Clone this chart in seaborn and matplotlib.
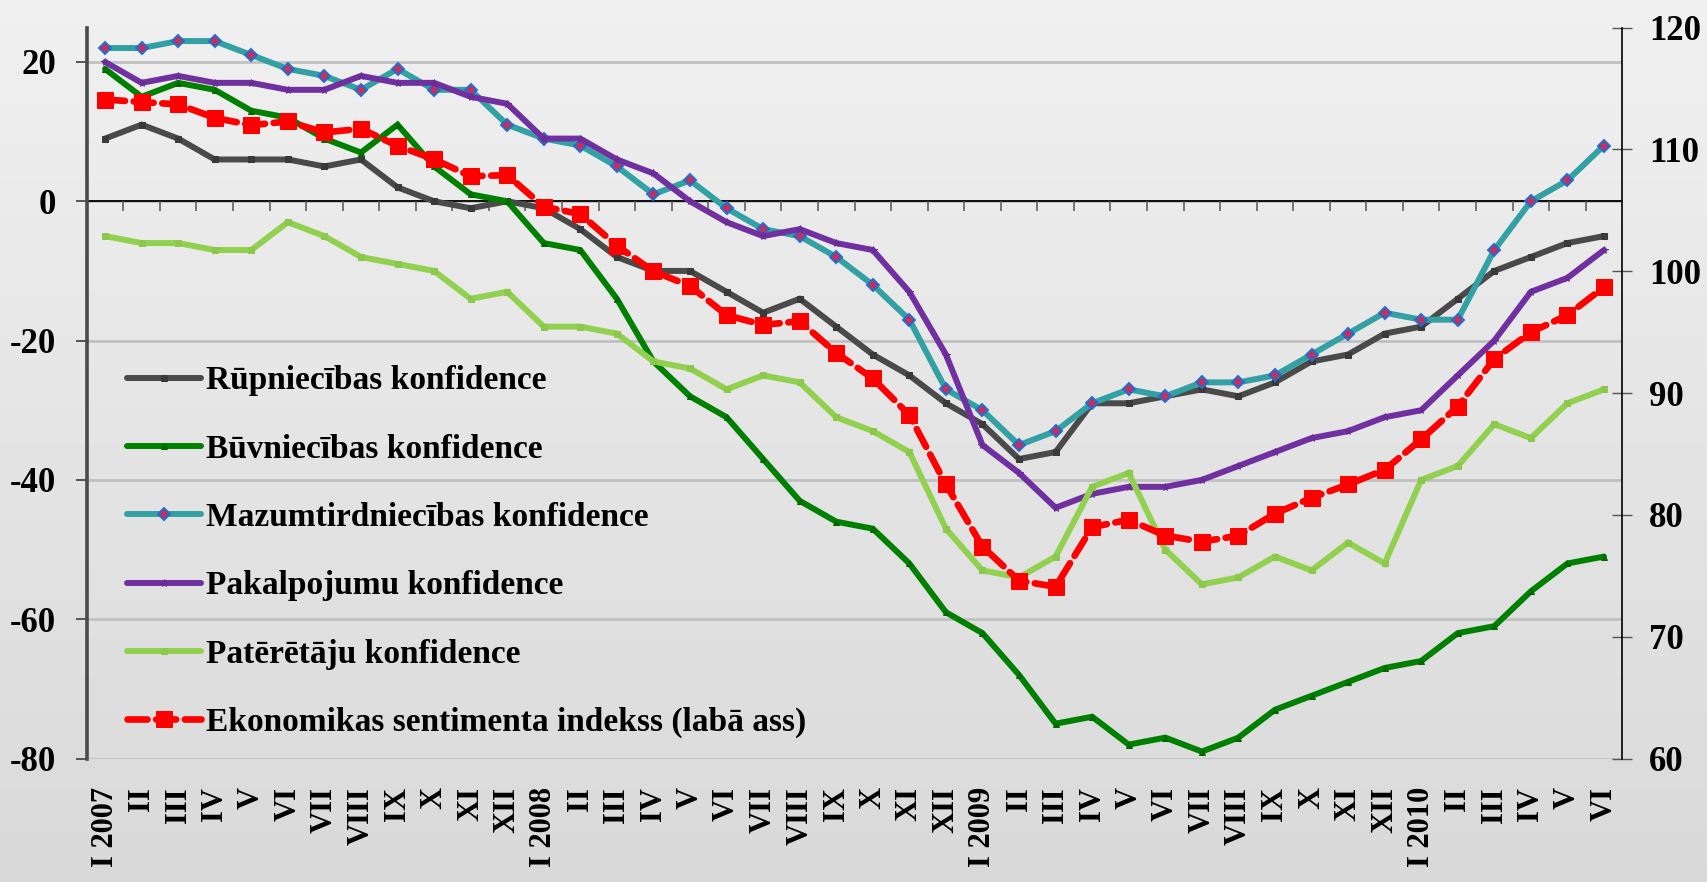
import matplotlib

matplotlib.use("Agg")
import matplotlib.pyplot as plt
import numpy as np
import pandas as pd
import seaborn as sns

roman = ["I", "II", "III", "IV", "V", "VI", "VII", "VIII", "IX", "X", "XI", "XII"]
months = (
    ["I 2007"] + roman[1:]
    + ["I 2008"] + roman[1:]
    + ["I 2009"] + roman[1:]
    + ["I 2010"] + roman[1:6]
)

industry = [9, 11, 9, 6, 6, 6, 5, 6, 2, 0, -1, 0, -1, -4, -8, -10, -10, -13, -16, -14,
            -18, -22, -25, -29, -32, -37, -36, -29, -29, -28, -27, -28, -26, -23, -22, -19,
            -18, -14, -10, -8, -6, -5]
construction = [19, 15, 17, 16, 13, 12, 9, 7, 11, 5, 1, 0, -6, -7, -14, -23, -28, -31, -37, -43,
                -46, -47, -52, -59, -62, -68, -75, -74, -78, -77, -79, -77, -73, -71, -69, -67,
                -66, -62, -61, -56, -52, -51]
retail = [22, 22, 23, 23, 21, 19, 18, 16, 19, 16, 16, 11, 9, 8, 5, 1, 3, -1, -4, -5,
          -8, -12, -17, -27, -30, -35, -33, -29, -27, -28, -26, -26, -25, -22, -19, -16,
          -17, -17, -7, 0, 3, 8]
services = [20, 17, 18, 17, 17, 16, 16, 18, 17, 17, 15, 14, 9, 9, 6, 4, 0, -3, -5, -4,
            -6, -7, -13, -22, -35, -39, -44, -42, -41, -41, -40, -38, -36, -34, -33, -31,
            -30, -25, -20, -13, -11, -7]
consumers = [-5, -6, -6, -7, -7, -3, -5, -8, -9, -10, -14, -13, -18, -18, -19, -23, -24, -27, -25, -26,
             -31, -33, -36, -47, -53, -54, -51, -41, -39, -50, -55, -54, -51, -53, -49, -52,
             -40, -38, -32, -34, -29, -27]
esi = [114.1, 113.9, 113.7, 112.6, 112.0, 112.3, 111.4, 111.7, 110.3, 109.2, 107.8, 107.9,
       105.3, 104.7, 102.1, 100.0, 98.8, 96.4, 95.6, 95.9, 93.3, 91.2, 88.2, 82.5,
       77.4, 74.6, 74.1, 79.0, 79.6, 78.3, 77.8, 78.3, 80.1, 81.4, 82.5, 83.7,
       86.2, 88.9, 92.8, 95.0, 96.4, 98.7]

labels = [
    "Rūpniecības konfidence",
    "Būvniecības konfidence",
    "Mazumtirdniecības konfidence",
    "Pakalpojumu konfidence",
    "Patērētāju konfidence",
]
esi_label = "Ekonomikas sentimenta indekss (labā ass)"

idx = np.arange(len(months))
df = pd.DataFrame({
    "idx": idx,
    labels[0]: industry,
    labels[1]: construction,
    labels[2]: retail,
    labels[3]: services,
    labels[4]: consumers,
    esi_label: esi,
})

font = "Liberation Serif"
plt.rcParams["font.family"] = [font, "DejaVu Serif"]
plt.rcParams["font.weight"] = "bold"
plt.rcParams["axes.unicode_minus"] = False

fig = plt.figure(figsize=(17.08, 8.82), dpi=100)

# soft vertical gradient background
bg = fig.add_axes([0, 0, 1, 1], zorder=-10)
grad = np.linspace(0.94, 0.85, 256).reshape(-1, 1)
bg.imshow(grad, aspect="auto", cmap="gray", vmin=0, vmax=1, extent=[0, 1, 0, 1])
bg.set_axis_off()

ax = fig.add_axes([0.0508, 0.1400, 0.8990, 0.8286])
ax.patch.set_alpha(0)

styles = [
    dict(color="#4a4a4a", marker="s", ms=4.5, mfc="#3a3a3a", mec="#3a3a3a"),
    dict(color="#008000", marker="^", ms=4.5, mfc="#006a00", mec="#006a00"),
    dict(color="#33a0a3", marker="D", ms=6, mfc="#c03060", mec="#1f6fd0", mew=1.4),
    dict(color="#7030a0", marker="*", ms=5.5, mfc="#6a2c98", mec="#6a2c98"),
    dict(color="#92d050", marker="s", ms=4.5, mfc="#8cc84c", mec="#8cc84c"),
]
for name, st in zip(labels, styles):
    sns.lineplot(data=df, x="idx", y=name, ax=ax, lw=4.3, label=name,
                 solid_joinstyle="miter", solid_capstyle="round", **st)

ax.set_xlim(-0.5, len(months) - 0.5)
ax.set_ylim(-80, 24.92)
ax.set_yticks([-80, -60, -40, -20, 0, 20])
ax.yaxis.grid(True, color="#c0c0c0", lw=2)
ax.set_axisbelow(True)
ax.axhline(0, color="black", lw=1.3, zorder=1.5)
ax.vlines(idx[:-1] + 0.5, -1.45, 0, color="#555555", lw=1.1, zorder=1.5)

ax.set_xticks(idx)
ax.set_xticklabels(months, rotation=90, fontsize=22, fontweight="bold", family=font)
ax.tick_params(axis="x", length=0, pad=20.5)
ax.tick_params(axis="y", direction="out", length=8, width=1.4, color="#555555",
               labelsize=25, pad=14)
for t in ax.get_yticklabels():
    t.set_fontweight("bold")
    t.set_family(font)
ax.set_xlabel("")
ax.set_ylabel("")
for side in ["top", "right", "bottom"]:
    ax.spines[side].set_visible(False)
ax.spines["left"].set_color("#4a4a4a")
ax.spines["left"].set_linewidth(2.6)

ax2 = ax.twinx()
sns.lineplot(data=df, x="idx", y=esi_label, ax=ax2, color="#ff0000", lw=4.8,
             marker="s", ms=11.3, mec="#ff0000", mfc="#ff0000", label=esi_label,
             dashes=False, linestyle=(0, (3.0, 1.3)), dash_capstyle="round")
ax2.set_ylim(60, 120)
ax2.set_yticks(range(60, 121, 10))
ax2.set_ylabel("")
ax2.tick_params(axis="y", direction="inout", length=15, width=1, color="#555555",
                labelsize=25, pad=12)
for t in ax2.get_yticklabels():
    t.set_fontweight("bold")
    t.set_family(font)
for side in ["top", "left", "bottom"]:
    ax2.spines[side].set_visible(False)
ax2.spines["right"].set_color("black")
ax2.spines["right"].set_linewidth(1.2)

for a in (ax, ax2):
    if a.get_legend() is not None:
        a.get_legend().remove()

h1, l1 = ax.get_legend_handles_labels()
h2, l2 = ax2.get_legend_handles_labels()
ax2.legend(h1 + h2, l1 + l2, loc="upper left", bbox_to_anchor=(0.0265, 0.538),
           frameon=False, borderpad=0, borderaxespad=0, handlelength=2.2,
           handletextpad=0.17, labelspacing=1.12,
           prop={"family": font, "weight": "bold", "size": 24})

fig.savefig("out.png", dpi=100)
